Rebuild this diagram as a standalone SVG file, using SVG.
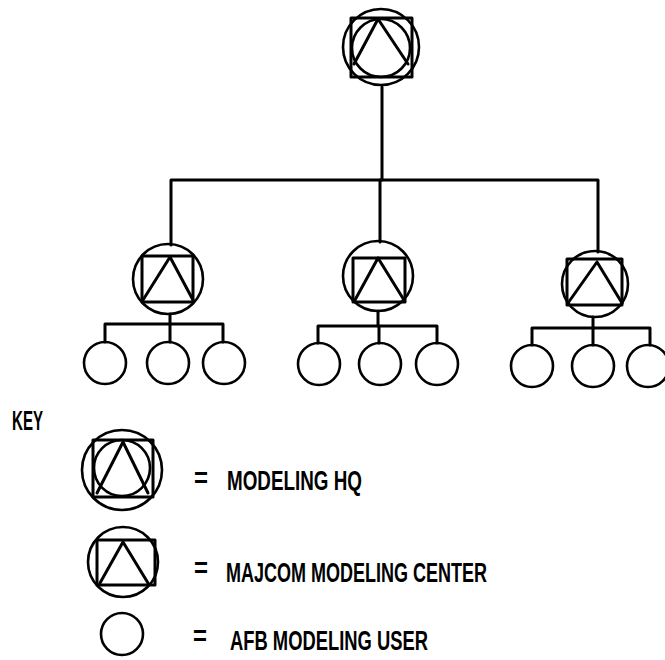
<svg xmlns="http://www.w3.org/2000/svg" width="665" height="660" viewBox="0 0 665 660">
<style>
  .s { fill: none; stroke: #000; stroke-width: 3; stroke-linejoin: round; stroke-linecap: round; }
  .c { fill: none; stroke: #000; stroke-width: 2.6; }
  .t { font-family: "Liberation Sans", Arial, sans-serif; font-weight: bold; font-size: 27px; fill: #000; }
</style>
<rect width="665" height="660" fill="#fff"/>
<g id="connectors" class="s">
  <path d="M382,87 V180"/>
  <path d="M171,245 V180 H598 V252"/>
  <path d="M380,180 V242"/>
  <path d="M170,314 V324"/>
  <path d="M105,342 V324 H223 V342"/>
  <path d="M170,324 V342"/>
  <path d="M378,311 V326"/>
  <path d="M318,343 V326 H437 V343"/>
  <path d="M379,326 V343"/>
  <path d="M593,317 V328"/>
  <path d="M532,345 V328 H650 V345"/>
  <path d="M593,328 V345"/>
</g>
<g id="hq">
  <circle class="c" cx="381" cy="47" r="38"/>
  <rect class="s" x="351" y="18" width="61" height="59"/>
  <circle class="c" cx="381" cy="48" r="29"/>
  <path class="s" d="M378,19 L354,64 M378,19 L408,64"/>
</g>
<g id="majcom-1">
  <circle class="c" cx="168" cy="279" r="35"/>
  <rect class="s" x="142" y="256" width="51" height="46"/>
  <path class="s" d="M170,257 L143,300 M170,257 L193,300"/>
</g>
<g id="majcom-2">
  <circle class="c" cx="378" cy="276" r="35"/>
  <rect class="s" x="353" y="258" width="52" height="44"/>
  <path class="s" d="M378,258 L355,300 M378,258 L404,300"/>
</g>
<g id="majcom-3">
  <circle class="c" cx="595" cy="284" r="33"/>
  <rect class="s" x="567" y="259" width="55" height="46"/>
  <path class="s" d="M597,262 L568,303 M597,262 L622,303"/>
</g>
<g id="users-1">
  <circle class="c" cx="105" cy="363" r="21"/>
  <circle class="c" cx="168" cy="363" r="21"/>
  <circle class="c" cx="224" cy="363" r="21"/>
</g>
<g id="users-2">
  <circle class="c" cx="319" cy="364" r="21"/>
  <circle class="c" cx="380" cy="364" r="21"/>
  <circle class="c" cx="437" cy="364" r="21"/>
</g>
<g id="users-3">
  <circle class="c" cx="532" cy="366" r="21"/>
  <circle class="c" cx="593" cy="366" r="21"/>
  <circle class="c" cx="648" cy="366" r="21"/>
</g>
<g id="key">
  <text class="t" x="12" y="430" font-size="31" textLength="31" lengthAdjust="spacingAndGlyphs">KEY</text>
  <g id="key-hq">
    <circle class="c" cx="122" cy="470" r="40"/>
    <rect class="s" x="93" y="440" width="60" height="57"/>
    <circle class="c" cx="122" cy="468" r="28"/>
    <path class="s" d="M123,442 L97,493 M123,442 L148,493"/>
    <text class="t" x="194" y="487" textLength="14" lengthAdjust="spacingAndGlyphs">=</text>
    <text class="t" x="227" y="490" textLength="135" lengthAdjust="spacingAndGlyphs">MODELING HQ</text>
  </g>
  <g id="key-majcom">
    <circle class="c" cx="123" cy="562" r="35"/>
    <rect class="s" x="97" y="540" width="58" height="45"/>
    <path class="s" d="M123,542 L100,583 M123,542 L148,583"/>
    <text class="t" x="194" y="577" textLength="14" lengthAdjust="spacingAndGlyphs">=</text>
    <text class="t" x="226" y="582" textLength="261" lengthAdjust="spacingAndGlyphs">MAJCOM MODELING CENTER</text>
  </g>
  <g id="key-user">
    <circle class="c" cx="122" cy="634" r="21"/>
    <text class="t" x="193" y="645" textLength="14" lengthAdjust="spacingAndGlyphs">=</text>
    <text class="t" x="230" y="650" textLength="198" lengthAdjust="spacingAndGlyphs">AFB MODELING USER</text>
  </g>
</g>
</svg>
